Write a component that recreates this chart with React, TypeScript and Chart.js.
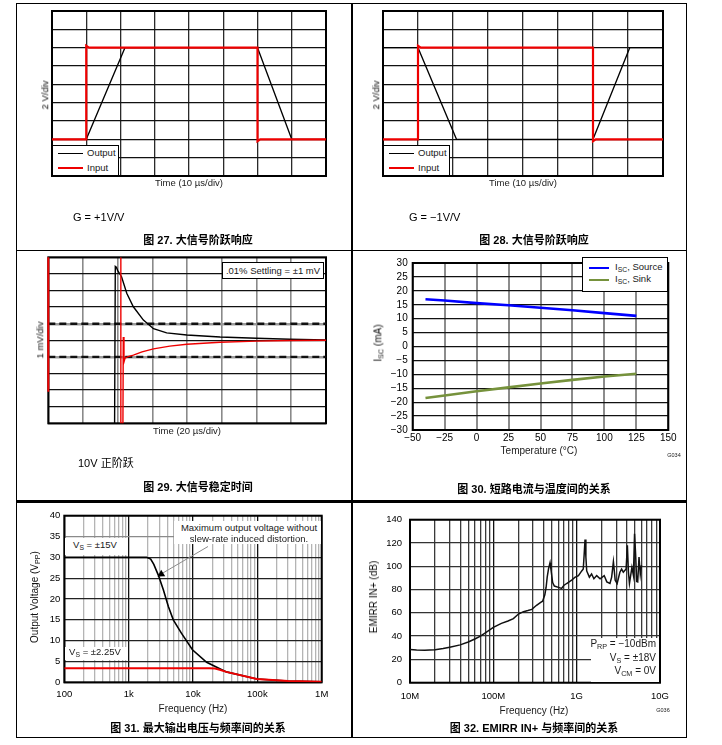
import React, { useEffect, useRef } from 'react';
import { Chart, registerables } from 'chart.js';

Chart.register(...registerables);

const FONT = "'Liberation Sans', Arial, 'Noto Sans CJK SC', sans-serif";

// ---------- Figure 27: large-signal step, G = +1 ----------
const fig27OutputX = [0, 1, 2.13, 6, 7, 8];
const fig27OutputY = [2, 2, 7, 7, 2, 2];
const fig27InputX = [0, 1, 1, 1.08, 6, 6, 6.08, 8];
const fig27InputY = [2, 2, 7.1, 7, 7, 1.9, 2, 2];

// ---------- Figure 28: large-signal step, G = -1 ----------
const fig28OutputX = [0, 1, 2.1, 6, 7.05, 8];
const fig28OutputY = [7, 7, 2, 2, 7, 7];
const fig28InputX = [0, 1, 1, 1.08, 6, 6, 6.08, 8];
const fig28InputY = [2, 2, 7.1, 7, 7, 1.9, 2, 2];

const scopeLegendLabels = ['Output', 'Input'];

// ---------- Figure 29: settling ----------
const fig29OutputX = [1.91, 1.93, 1.96, 2.0, 2.11, 2.26, 2.45, 2.74, 3.03, 3.41, 3.99, 4.95, 6.0, 6.96, 8];
const fig29OutputY = [0, 9.45, 9.4, 9.2, 8.83, 7.83, 7.02, 6.22, 5.7, 5.45, 5.32, 5.2, 5.12, 5.06, 5.02];
const fig29ErrorX = [2.09, 2.09, 2.15, 2.16, 2.18, 2.21, 2.3, 2.45, 2.7, 3.03, 3.5, 3.99, 4.95, 6.0, 6.96, 8];
const fig29ErrorY = [10, 0, 0, 5.2, 3.7, 3.92, 4.02, 4.11, 4.3, 4.48, 4.65, 4.76, 4.88, 4.95, 4.99, 5.0];
const fig29EdgeX = [0, 0];
const fig29EdgeY = [1.9, 10];
const fig29BandLevels = [4, 6];

// ---------- Figure 30: Isc vs temperature ----------
const fig30Temp = [-40, -25, 0, 25, 50, 75, 100, 125];
const fig30Source = [17, 16.5, 15.6, 14.8, 13.9, 13, 12, 11];
const fig30Sink = [-18.5, -17.6, -16.1, -14.7, -13.3, -12, -10.8, -9.8];
const fig30XRange = [-50, 150];
const fig30XStep = 25;
const fig30YRange = [-30, 30];
const fig30YStep = 5;

// ---------- Figure 31: max output voltage vs frequency ----------
const fig31Freq15 = [100, 1000, 1900, 2200, 2460, 2700, 2880, 3460, 4140, 4940, 6600, 9800, 16300, 33000, 98000, 300000, 1000000];
const fig31Vout15 = [30, 30, 30, 29.6, 28.3, 26.8, 25.8, 22.2, 18.2, 15, 11.8, 7.8, 4.8, 2.5, 0.8, 0.3, 0.15];
const fig31Freq225 = [100, 1000, 10000, 18000, 22000, 26000, 33000, 98000, 300000, 1000000];
const fig31Vout225 = [3.4, 3.4, 3.4, 3.4, 3.3, 3.0, 2.5, 0.8, 0.3, 0.15];
const fig31TickValues = [100, 1000, 10000, 100000, 1000000];
const fig31TickLabels = ['100', '1k', '10k', '100k', '1M'];
const fig31YRange = [0, 40];
const fig31YStep = 5;

// ---------- Figure 32: EMIRR IN+ vs frequency ----------
const fig32FreqMHz = [10, 12, 15, 20, 25, 30, 40, 50, 60, 70, 81, 100, 125, 150, 174, 190, 200, 230, 260, 290, 330, 370, 390, 415, 430, 443, 460, 479, 492, 515, 540, 605, 660, 700, 758, 870, 950, 1050, 1150, 1200, 1230, 1260, 1290, 1320, 1420, 1510, 1610, 1740, 1910, 2140, 2300, 2510, 2630, 2760, 2900, 3060, 3300, 3460, 3630, 3920, 4060, 4180, 4300, 4600, 4800, 4950, 5100, 5250, 5400, 5600, 5800, 6000];
const fig32EmirrDb = [28.5, 28, 27.8, 28.3, 29.3, 30.5, 32.5, 35, 37.5, 40, 43, 47.5, 51, 53, 55, 57.5, 59, 61, 62, 63, 66.5, 69, 70, 75.5, 82, 90.7, 98, 103, 97, 86, 83, 81.9, 81, 83.5, 85.2, 88, 90.5, 92, 96, 97.6, 110, 123, 108, 96, 90.7, 93.4, 89.3, 92, 89.3, 92, 86.6, 85.2, 90.7, 104, 88, 85.2, 94.9, 97.6, 94.9, 97.6, 118, 95, 85.2, 99, 92, 128, 110, 87, 86.6, 108, 93, 101];
const fig32TickValues = [1e7, 1e8, 1e9, 1e10];
const fig32TickLabels = ['10M', '100M', '1G', '10G'];
const fig32YRange = [0, 140];
const fig32YStep = 20;

// ---------- helpers ----------
type XY = { x: number; y: number };
const pts = (xs: number[], ys: number[]): XY[] => xs.map((x, i) => ({ x, y: ys[i] }));

const trace = (xs: number[], ys: number[], color: string, width: number, extra: any = {}) => ({
  data: pts(xs, ys),
  showLine: true,
  borderColor: color,
  backgroundColor: color,
  borderWidth: width,
  pointRadius: 0,
  pointHoverRadius: 0,
  tension: 0,
  fill: false,
  ...extra,
});

const framePlugin = {
  id: 'frame',
  beforeDatasetsDraw(chart: any, _a: any, opts: any) {
    const { ctx, chartArea: a } = chart;
    ctx.save();
    ctx.strokeStyle = opts.color ?? '#000';
    ctx.lineWidth = opts.width ?? 2;
    ctx.strokeRect(a.left, a.top, a.right - a.left, a.bottom - a.top);
    ctx.restore();
  },
};

type Pad = { left: number; top: number; right: number; bottom: number };

function baseOptions(pad: Pad, scales: any, frameWidth = 2) {
  return {
    animation: false,
    responsive: false,
    maintainAspectRatio: false,
    events: [],
    layout: { padding: pad },
    plugins: {
      legend: { display: false },
      tooltip: { enabled: false },
      title: { display: false },
      frame: { color: '#000', width: frameWidth },
    },
    scales,
  };
}

function scopeScales(xDivs: number, yDivs: number, xGrid: any, yGrid: any) {
  return {
    x: {
      type: 'linear', min: 0, max: xDivs,
      ticks: { display: false, stepSize: 1 },
      grid: { drawTicks: false, ...xGrid },
      border: { display: false },
      afterFit: (s: any) => { s.height = 0; },
    },
    y: {
      type: 'linear', min: 0, max: yDivs,
      ticks: { display: false, stepSize: 1 },
      grid: { drawTicks: false, ...yGrid },
      border: { display: false },
      afterFit: (s: any) => { s.width = 0; },
    },
  };
}

const isDecade = (v: number) => v > 0 && Math.abs(Math.log10(v) - Math.round(Math.log10(v))) < 1e-9;

function logGridValues(decades: number[]) {
  const out: number[] = [];
  for (let i = 0; i < decades.length - 1; i++) for (let m = 1; m < 10; m++) out.push(decades[i] * m);
  out.push(decades[decades.length - 1]);
  return out;
}

const labelFor = (values: number[], labels: string[]) => (v: any) => {
  const i = values.findIndex((t) => Math.abs(t - Number(v)) / t < 1e-9);
  return i >= 0 ? labels[i] : '';
};

const minusFmt = (v: any) => (Number(v) < 0 ? '\u2212' + Math.abs(Number(v)) : String(v));

// ---------- chart configs ----------
const make27 = () => ({
  type: 'scatter',
  data: {
    datasets: [
      trace(fig27InputX, fig27InputY, '#ee0000', 2.2),
      trace(fig27OutputX, fig27OutputY, '#000', 1.3),
    ],
  },
  options: baseOptions({ left: 4, top: 4, right: 4, bottom: 4 },
    scopeScales(8, 9, { color: '#2a2a2a', lineWidth: 1.3 }, { color: '#111', lineWidth: 1.3 })),
  plugins: [framePlugin],
});

const make28 = () => ({
  type: 'scatter',
  data: {
    datasets: [
      trace(fig28InputX, fig28InputY, '#ee0000', 2.2),
      trace(fig28OutputX, fig28OutputY, '#000', 1.3),
    ],
  },
  options: baseOptions({ left: 4, top: 4, right: 4, bottom: 4 },
    scopeScales(8, 9, { color: '#2a2a2a', lineWidth: 1.3 }, { color: '#111', lineWidth: 1.3 })),
  plugins: [framePlugin],
});

const make29 = () => ({
  type: 'scatter',
  data: {
    datasets: [
      trace(fig29EdgeX, fig29EdgeY, '#ee0000', 2, { clip: 4 }),
      trace(fig29ErrorX, fig29ErrorY, '#ee0000', 1.4),
      trace(fig29OutputX, fig29OutputY, '#000', 1.4),
      ...fig29BandLevels.map((lv) => trace([0, 8], [lv, lv], '#111', 2.4, { borderDash: [7, 4] })),
    ],
  },
  options: baseOptions({ left: 4.3, top: 4.3, right: 4, bottom: 3.7 },
    scopeScales(8, 10,
      { color: '#8a8a8a', lineWidth: 1.6 },
      {
        color: (c: any) => (fig29BandLevels.includes(c.tick?.value) ? '#9a9a9a' : '#111'),
        lineWidth: (c: any) => (fig29BandLevels.includes(c.tick?.value) ? 2.4 : 1.3),
      })),
  plugins: [framePlugin],
});

const make30 = () => ({
  type: 'scatter',
  data: {
    datasets: [
      trace(fig30Temp, fig30Source, '#0000ff', 2.6),
      trace(fig30Temp, fig30Sink, '#76923c', 2.6),
    ],
  },
  options: baseOptions({ left: 0, top: 4.7, right: 13.7, bottom: 0 }, {
    x: {
      type: 'linear', min: fig30XRange[0], max: fig30XRange[1],
      ticks: { stepSize: fig30XStep, color: '#000', font: { family: FONT, size: 10 }, padding: 2, maxRotation: 0, autoSkip: false, callback: minusFmt },
      grid: { drawTicks: false, color: '#8c8c8c', lineWidth: 2 },
      border: { display: false },
      afterFit: (s: any) => { s.height = 27; },
    },
    y: {
      type: 'linear', min: fig30YRange[0], max: fig30YRange[1],
      ticks: { stepSize: fig30YStep, color: '#000', font: { family: FONT, size: 10 }, padding: 5, autoSkip: false, callback: minusFmt },
      grid: { drawTicks: false, color: '#111', lineWidth: 1.3 },
      border: { display: false },
      afterFit: (s: any) => { s.width = 50.7; },
    },
  }),
  plugins: [framePlugin],
});

const make31 = () => ({
  type: 'scatter',
  data: {
    datasets: [
      trace(fig31Freq225, fig31Vout225, '#ee0000', 2),
      trace(fig31Freq15, fig31Vout15, '#000', 1.6),
    ],
  },
  options: baseOptions({ left: 0, top: 9.7, right: 16.3, bottom: 0 }, {
    x: {
      type: 'logarithmic', min: fig31TickValues[0], max: fig31TickValues[fig31TickValues.length - 1],
      afterBuildTicks: (s: any) => { s.ticks = logGridValues(fig31TickValues).map((v) => ({ value: v })); },
      ticks: { color: '#000', font: { family: FONT, size: 9.5 }, padding: 6.3, maxRotation: 0, autoSkip: false, callback: labelFor(fig31TickValues, fig31TickLabels) },
      grid: { drawTicks: false, color: (c: any) => (isDecade(c.tick?.value) ? '#111' : '#b4b4b4'), lineWidth: 1.3 },
      border: { display: false },
      afterFit: (s: any) => { s.height = 23.7; },
    },
    y: {
      type: 'linear', min: fig31YRange[0], max: fig31YRange[1],
      ticks: { stepSize: fig31YStep, color: '#000', font: { family: FONT, size: 9.5 }, padding: 4, autoSkip: false },
      grid: { drawTicks: false, color: (c: any) => (c.tick?.value === 35 ? '#8a8a8a' : '#222'), lineWidth: 1.3 },
      border: { display: false },
      afterFit: (s: any) => { s.width = 46.3; },
    },
  }),
  plugins: [framePlugin],
});

const make32 = () => ({
  type: 'scatter',
  data: {
    datasets: [
      trace(fig32FreqMHz.map((f) => f * 1e6), fig32EmirrDb, '#111', 1.5),
    ],
  },
  options: baseOptions({ left: 0, top: 8, right: 20, bottom: 0 }, {
    x: {
      type: 'logarithmic', min: fig32TickValues[0], max: fig32TickValues[fig32TickValues.length - 1],
      afterBuildTicks: (s: any) => { s.ticks = logGridValues(fig32TickValues).map((v) => ({ value: v })); },
      ticks: { color: '#000', font: { family: FONT, size: 9.5 }, padding: 7.6, maxRotation: 0, autoSkip: false, callback: labelFor(fig32TickValues, fig32TickLabels) },
      grid: { drawTicks: false, color: (c: any) => (isDecade(c.tick?.value) ? '#111' : '#3a3a3a'), lineWidth: 1.3 },
      border: { display: false },
      afterFit: (s: any) => { s.height = 23.3; },
    },
    y: {
      type: 'linear', min: fig32YRange[0], max: fig32YRange[1],
      ticks: { stepSize: fig32YStep, color: '#000', font: { family: FONT, size: 9.5 }, padding: 8, autoSkip: false },
      grid: { drawTicks: false, color: '#333', lineWidth: 1.3 },
      border: { display: false },
      afterFit: (s: any) => { s.width = 48; },
    },
  }),
  plugins: [framePlugin],
});

// ---------- components ----------
function ChartBox({ left, top, width, height, make }: { left: number; top: number; width: number; height: number; make: () => any }) {
  const ref = useRef<HTMLCanvasElement | null>(null);
  useEffect(() => {
    if (!ref.current) return;
    const chart = new Chart(ref.current, make());
    return () => chart.destroy();
  }, [make]);
  return (
    <canvas
      ref={ref}
      width={width}
      height={height}
      style={{ position: 'absolute', left, top, width, height, display: 'block' }}
    />
  );
}

type TxtProps = {
  x: number; y: number; children: React.ReactNode; size?: number; bold?: boolean;
  rotate?: boolean; anchor?: 'left' | 'center' | 'right'; color?: string;
};
const Txt = ({ x, y, children, size = 10, bold = false, rotate = false, anchor = 'center', color = '#1a1a1a' }: TxtProps) => {
  const tx = anchor === 'center' ? '-50%' : anchor === 'right' ? '-100%' : '0';
  return (
    <div
      style={{
        position: 'absolute', left: x, top: y,
        transform: `translate(${tx}, -50%)${rotate ? ' rotate(-90deg)' : ''}`,
        whiteSpace: 'nowrap', fontFamily: FONT, fontSize: size, fontWeight: bold ? 700 : 400,
        color, lineHeight: 1,
      }}
    >
      {children}
    </div>
  );
};

const Sub = ({ children }: { children: React.ReactNode }) => (
  <span style={{ fontSize: '0.72em', verticalAlign: '-0.28em' }}>{children}</span>
);

const Box = ({ x, y, w, h, border = 0 }: { x: number; y: number; w: number; h: number; border?: number }) => (
  <div
    style={{
      position: 'absolute', left: x, top: y, width: w, height: h, background: '#fff',
      border: border ? `${border}px solid #000` : 'none', boxSizing: 'border-box',
    }}
  />
);

const HLine = ({ x, y, w, t, color }: { x: number; y: number; w: number; t: number; color: string }) => (
  <div style={{ position: 'absolute', left: x, top: y - t / 2, width: w, height: t, background: color }} />
);

const ScopeLegend = ({ x, y }: { x: number; y: number }) => (
  <>
    <Box x={x} y={y} w={67} h={31} border={1.5} />
    {scopeLegendLabels.map((lab, i) => (
      <React.Fragment key={lab}>
        <HLine x={x + 6} y={y + 8.3 + i * 15} w={25} t={i === 0 ? 1.3 : 2} color={i === 0 ? '#000' : '#ee0000'} />
        <Txt x={x + 35} y={y + 8.3 + i * 15} size={9.5} anchor="left">{lab}</Txt>
      </React.Fragment>
    ))}
  </>
);

export default function App() {
  return (
    <div
      style={{
        position: 'absolute', left: 0, top: 0, width: 722, height: 745,
        background: '#fff', overflow: 'hidden', fontFamily: FONT,
      }}
    >
      {/* cell frame */}
      <div style={{ position: 'absolute', left: 16, top: 3, width: 671, height: 735, border: '1.5px solid #000', boxSizing: 'border-box' }} />
      <div style={{ position: 'absolute', left: 351, top: 3, width: 1.5, height: 735, background: '#000' }} />
      <div style={{ position: 'absolute', left: 16, top: 249.5, width: 671, height: 1.5, background: '#000' }} />
      <div style={{ position: 'absolute', left: 16, top: 500, width: 671, height: 3, background: '#000' }} />

      {/* Figure 27 */}
      <ChartBox left={48} top={7} width={282} height={173} make={make27} />
      <ScopeLegend x={52} y={145} />
      <Txt x={45} y={95} size={9.5} rotate color="#111">2 V/div</Txt>
      <Txt x={189} y={183} size={9.5}>Time (10 µs/div)</Txt>
      <Txt x={73} y={217} size={11} anchor="left" color="#000">G = +1V/V</Txt>
      <Txt x={198} y={240} size={11} bold color="#000">图 27. 大信号阶跃响应</Txt>

      {/* Figure 28 */}
      <ChartBox left={379} top={7} width={288} height={173} make={make28} />
      <ScopeLegend x={383} y={145} />
      <Txt x={376} y={95} size={9.5} rotate color="#111">2 V/div</Txt>
      <Txt x={523} y={183} size={9.5}>Time (10 µs/div)</Txt>
      <Txt x={409} y={217} size={11} anchor="left" color="#000">G = {'\u2212'}1V/V</Txt>
      <Txt x={534} y={240} size={11} bold color="#000">图 28. 大信号阶跃响应</Txt>

      {/* Figure 29 */}
      <ChartBox left={44} top={253} width={286} height={174} make={make29} />
      <Box x={222} y={262} w={102} h={17} border={1} />
      <Txt x={273} y={270.5} size={9.5}>.01% Settling = ±1 mV</Txt>
      <Txt x={40} y={340} size={9.5} rotate color="#111">1 mV/div</Txt>
      <Txt x={187} y={431} size={9.5}>Time (20 µs/div)</Txt>
      <Txt x={78} y={463} size={11} anchor="left" color="#000">10V 正阶跃</Txt>
      <Txt x={198} y={487} size={11} bold color="#000">图 29. 大信号稳定时间</Txt>

      {/* Figure 30 */}
      <ChartBox left={362} top={252} width={320} height={205} make={make30} />
      <Box x={581.7} y={256.7} w={86.6} h={35} border={1.5} />
      <HLine x={589} y={268} w={20} t={2.6} color="#0000ff" />
      <Txt x={615} y={268} size={9.5} anchor="left">I<Sub>SC</Sub>, Source</Txt>
      <HLine x={589} y={280} w={20} t={2.6} color="#76923c" />
      <Txt x={615} y={280} size={9.5} anchor="left">I<Sub>SC</Sub>, Sink</Txt>
      <Txt x={379} y={343} size={10} rotate color="#111">I<Sub>SC</Sub> (mA)</Txt>
      <Txt x={539} y={451} size={10}>Temperature (°C)</Txt>
      <Txt x={674} y={456} size={5.5}>G034</Txt>
      <Txt x={534} y={489} size={11} bold color="#000">图 30. 短路电流与温度间的关系</Txt>

      {/* Figure 31 */}
      <ChartBox left={18} top={506} width={320} height={200} make={make31} />
      <Box x={65.3} y={538} w={62} h={17} />
      <Txt x={95} y={546} size={9.5}>V<Sub>S</Sub> = ±15V</Txt>
      <Box x={65.3} y={646.5} w={62} h={13} />
      <Txt x={95} y={653} size={9.5}>V<Sub>S</Sub> = ±2.25V</Txt>
      <Box x={174} y={520.5} w={146.7} h={23.5} />
      <Txt x={249} y={527.5} size={9.5}>Maximum output voltage without</Txt>
      <Txt x={249} y={538.5} size={9.5}>slew-rate induced distortion.</Txt>
      <svg style={{ position: 'absolute', left: 0, top: 0 }} width={722} height={745}>
        <line x1={208} y1={546.5} x2={162} y2={573.5} stroke="#8a8a8a" strokeWidth={1} />
        <polygon points="157.5,576.5 161.2,569.8 165.2,576.3" fill="#000" />
      </svg>
      <Txt x={36} y={597} size={10} rotate color="#111">Output Voltage (V<Sub>PP</Sub>)</Txt>
      <Txt x={193} y={709} size={10}>Frequency (Hz)</Txt>
      <Txt x={198} y={728} size={11} bold color="#000">图 31. 最大输出电压与频率间的关系</Txt>

      {/* Figure 32 */}
      <ChartBox left={362} top={506} width={318} height={200} make={make32} />
      <Box x={591} y={637.5} w={68} h={44} />
      <Txt x={656} y={645} size={10} anchor="right">P<Sub>RP</Sub> = {'\u2212'}10dBm</Txt>
      <Txt x={656} y={658.5} size={10} anchor="right">V<Sub>S</Sub> = ±18V</Txt>
      <Txt x={656} y={672} size={10} anchor="right">V<Sub>CM</Sub> = 0V</Txt>
      <Txt x={374} y={597} size={10} rotate color="#111">EMIRR IN+ (dB)</Txt>
      <Txt x={534} y={711} size={10}>Frequency (Hz)</Txt>
      <Txt x={663} y={711} size={5.5}>G036</Txt>
      <Txt x={534} y={728} size={11} bold color="#000">图 32. EMIRR IN+ 与频率间的关系</Txt>
    </div>
  );
}
